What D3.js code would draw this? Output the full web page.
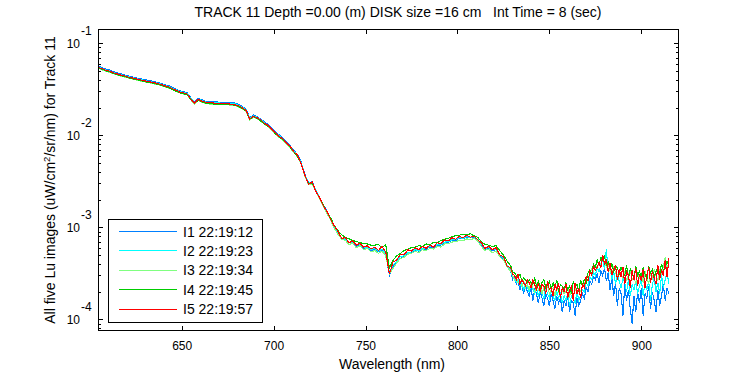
<!DOCTYPE html>
<html>
<head>
<meta charset="utf-8">
<script src="https://cdn.jsdelivr.net/npm/d3@7"></script>
<style>
  body { margin: 0; background: #fff; }
  svg { display: block; font-family: "Liberation Sans", Arial, Helvetica, sans-serif; }
</style>
</head>
<body>
<div id="chart"></div>
<script>
// wavelengths (nm): 2 nm steps 605-827, 1 nm steps 829-915
const wavelengths = d3.range(605, 829, 2).concat(d3.range(829, 916, 1));

// Lu values in units of 1e-5 uW/cm^2/sr/nm, one array per image
const lu1 = [
  5600,5400,5230,5100,4920,4770,4650,4530,4420,4320,
  4230,4140,4060,3980,3910,3830,3760,3660,3550,3450,
  3320,3170,3050,2970,2900,2560,2320,2530,2430,2350,
  2330,2310,2300,2290,2290,2280,2270,2240,2160,2060,
  1930,1560,1660,1600,1500,1400,1310,1200,1090,1010,
  935,855,770,690,615,512,378,305,312,256,
  214,178,149,124,99,
  86,76,72,68,67,62,64,58,60,56,
  57,54,57,51,30,37,42,46,48,52,
  53,56,55,58,58,61,60,64,64,68,
  69,72,72,76,75,78,77,78,73,65,
  58,59,56,57,49,45,38,
  33,27,29,24,26,21,24,19,23,20,
  18,22,16,21,19,15,20,17,14,19,
  17,14,19,16,13,18,15,17,12,16,
  14,18,12,16,15,11,17,14,16,19,
  17,22,20,26,24,29,27,31,25,34,
  30,36,26,32,21,28,18,25,14,22,
  19,11,24,16,21,13,9,18,12,20,
  15,22,11,19,17,23,13,20,16,12,
  21,14,18,24,16,22,19
];
const lu2 = [
  5480,5280,5110,4980,4800,4660,4550,4430,4330,4230,
  4140,4050,3970,3890,3830,3750,3680,3580,3480,3380,
  3250,3110,2990,2910,2850,2520,2280,2480,2380,2300,
  2280,2260,2250,2240,2240,2230,2220,2200,2120,2020,
  1900,1530,1630,1570,1480,1370,1280,1180,1070,990,
  915,835,755,675,605,505,372,302,307,252,
  212,176,148,124,100,
  87,77,74,69,69,64,65,60,61,57,
  59,55,58,52,32,39,43,48,49,53,
  54,57,56,59,59,62,61,65,65,69,
  70,73,73,77,76,79,78,79,74,66,
  59,60,57,58,50,46,39,
  34,29,28,25,27,23,25,21,24,22,
  20,23,21,19,22,18,21,19,17,22,
  19,17,21,18,16,20,17,19,15,18,
  16,19,14,18,17,15,20,16,18,21,
  20,25,23,29,27,32,30,36,33,39,
  44,35,58,32,36,27,33,24,30,26,
  22,28,25,20,27,18,24,21,26,19,
  23,27,18,25,21,26,16,24,28,20,
  25,19,30,22,27,33,24
];
const lu3 = [
  5300,5110,4940,4810,4650,4500,4400,4280,4180,4090,
  4000,3910,3830,3760,3700,3620,3550,3450,3360,3260,
  3130,3000,2880,2800,2740,2420,2180,2380,2290,2210,
  2190,2170,2160,2150,2150,2140,2130,2100,2030,1930,
  1820,1470,1570,1510,1420,1320,1230,1130,1030,950,
  880,805,725,650,580,485,360,290,296,242,
  204,170,142,120,97,
  84,74,72,65,67,60,63,57,59,54,
  56,52,55,49,31,36,41,46,47,51,
  52,55,53,57,56,59,58,62,61,66,
  66,69,70,72,71,75,73,76,71,62,
  56,58,53,55,48,44,37,
  33,30,27,29,25,26,23,26,22,24,
  21,25,22,20,24,21,23,19,22,20,
  23,19,21,22,18,23,20,18,21,19,
  20,22,18,21,17,22,19,21,20,23,
  24,28,26,31,35,33,38,36,42,40,
  46,41,37,40,34,31,37,32,30,34,
  31,28,33,26,30,35,27,29,24,32,
  28,31,25,33,29,24,32,27,35,30,
  26,34,31,38,47,36,42
];
const lu4 = [
  5380,5180,5010,4880,4710,4560,4450,4330,4230,4130,
  4040,3950,3870,3790,3730,3650,3580,3480,3380,3280,
  3150,3010,2900,2820,2760,2440,2210,2410,2310,2230,
  2210,2190,2180,2170,2170,2160,2150,2120,2050,1950,
  1840,1490,1590,1530,1430,1330,1250,1150,1040,960,
  895,815,740,660,590,495,365,298,303,248,
  208,176,149,127,105,
  92,83,78,75,72,70,68,67,66,64,
  64,65,60,65,36,44,49,52,56,58,
  60,61,63,62,66,64,69,68,72,74,
  76,79,81,82,84,83,85,81,78,70,
  65,64,62,63,56,50,43,
  38,33,32,30,28,31,26,28,27,25,
  27,25,24,28,23,26,22,25,27,22,
  24,26,21,25,22,27,20,24,23,21,
  25,21,23,19,26,22,24,20,27,23,
  27,25,32,35,31,40,37,44,39,47,
  44,48,39,42,35,40,33,38,36,31,
  37,33,30,39,28,35,32,27,38,30,
  33,29,36,31,27,38,32,35,29,33,
  37,31,40,34,36,43,38
];
const lu5 = [
  5450,5260,5070,4960,4770,4640,4510,4410,4290,4210,
  4100,4030,3930,3870,3790,3730,3640,3560,3440,3360,
  3210,3090,2950,2890,2810,2480,2240,2450,2350,2290,
  2250,2250,2220,2230,2210,2200,2170,2140,2090,1990,
  1870,1500,1610,1550,1470,1350,1280,1160,1070,970,
  920,820,760,660,610,490,370,295,310,245,
  212,172,150,122,104,
  90,76,77,68,71,64,67,61,63,58,
  61,56,62,54,31,42,44,51,50,57,
  55,60,57,62,59,64,61,68,66,73,
  71,77,74,80,77,82,78,80,73,68,
  59,62,57,60,50,48,38,
  36,31,30,27,31,24,27,25,23,27,
  25,22,27,24,21,25,20,24,23,19,
  26,21,22,18,24,21,25,17,22,20,
  24,17,21,23,16,25,19,22,17,24,
  22,29,26,33,30,38,34,37,42,36,
  50,40,44,33,41,30,36,38,27,35,
  29,37,24,33,30,22,34,27,36,23,
  31,26,35,22,30,37,25,33,28,24,
  39,27,34,30,44,29,46
];

const labels = ["I1 22:19:12", "I2 22:19:23", "I3 22:19:34", "I4 22:19:45", "I5 22:19:57"];
const colors = ["#0080ff", "#00ffff", "#80ff80", "#00cc00", "#ff0000"];
const series = [lu1, lu2, lu3, lu4, lu5];

const xTicks = [650, 700, 750, 800, 850, 900];
const yTicks = [1e-4, 1e-3, 1e-2, 1e-1];

const width = 750;
const height = 375;
const margin = { left: 98, right: 71, top: 29, bottom: 44 };
const plotRight = width - margin.right;
const plotBottom = height - margin.bottom;

const svg = d3.select("#chart").append("svg")
    .attr("width", width)
    .attr("height", height);

const x = d3.scaleLinear()
    .domain([604.5, 920.5])
    .range([margin.left, plotRight]);

const y = d3.scaleLog()
    .domain([Math.pow(10, -4.127), Math.pow(10, -0.845)])
    .range([plotBottom, margin.top]);

svg.append("clipPath").attr("id", "clip")
  .append("rect")
    .attr("x", margin.left).attr("y", margin.top)
    .attr("width", plotRight - margin.left)
    .attr("height", plotBottom - margin.top);

// data lines, I1 drawn first and I5 on top
const line = d3.line()
    .x(d => x(d[0]))
    .y(d => y(d[1]));

series.forEach((vals, i) => {
  const pts = wavelengths.map((w, j) => [w, vals[j] * 1e-5]);
  svg.append("path")
      .datum(pts)
      .attr("clip-path", "url(#clip)")
      .attr("fill", "none")
      .attr("stroke", colors[i])
      .attr("stroke-width", 1.1)
      .attr("shape-rendering", "crispEdges")
      .attr("d", line);
});

// axis box
svg.append("rect")
    .attr("x", margin.left + 0.5).attr("y", margin.top + 0.5)
    .attr("width", plotRight - margin.left - 1)
    .attr("height", plotBottom - margin.top - 1)
    .attr("fill", "none")
    .attr("stroke", "#000")
    .attr("shape-rendering", "crispEdges");

// x axis: ticks inward, bottom and top
const xBottom = d3.axisBottom(x).tickValues(xTicks).tickSize(-5).tickPadding(10);
const xTop = d3.axisTop(x).tickValues(xTicks).tickSize(-5).tickFormat("");
svg.append("g").attr("transform", `translate(0,${plotBottom})`).call(xBottom);
svg.append("g").attr("transform", `translate(0,${margin.top})`).call(xTop);

// y axis: major and minor log ticks inward, left and right
const minor = [];
for (let e = -5; e <= 0; e++) {
  for (let m = 2; m <= 9; m++) {
    const v = m * Math.pow(10, e);
    if (v >= y.domain()[0] && v <= y.domain()[1]) minor.push(v);
  }
}
[[margin.left, d3.axisLeft], [plotRight, d3.axisRight]].forEach(([px, ax]) => {
  svg.append("g").attr("transform", `translate(${px},0)`)
      .call(ax(y).tickValues(yTicks).tickSize(-5).tickFormat(""));
  svg.append("g").attr("transform", `translate(${px},0)`)
      .call(ax(y).tickValues(minor).tickSize(-3).tickFormat(""));
});

svg.selectAll(".domain").remove();
svg.selectAll(".tick line").attr("stroke", "#000").attr("shape-rendering", "crispEdges");
svg.selectAll(".tick text").attr("font-size", 12).attr("fill", "#000")
    .attr("font-family", '"Liberation Sans", Arial, sans-serif');

// y tick labels as 10^n
yTicks.forEach(v => {
  svg.append("text")
      .attr("x", 80)
      .attr("y", y(v) + 4.5)
      .attr("text-anchor", "end")
      .attr("font-size", 12)
      .text("10");
  svg.append("text")
      .attr("x", 81)
      .attr("y", y(v) - 8)
      .attr("font-size", 12)
      .text(String(Math.round(Math.log10(v))));
});

// title and axis labels
svg.append("text")
    .attr("x", 398)
    .attr("y", 17)
    .attr("text-anchor", "middle")
    .attr("font-size", 14)
    .attr("xml:space", "preserve")
    .text("TRACK 11 Depth =0.00 (m) DISK size =16 cm   Int Time = 8 (sec)");

svg.append("text")
    .attr("x", 392)
    .attr("y", 369)
    .attr("text-anchor", "middle")
    .attr("font-size", 14)
    .text("Wavelength (nm)");

const yl = svg.append("text")
    .attr("transform", `translate(55,${(margin.top + plotBottom) / 2}) rotate(-90)`)
    .attr("text-anchor", "middle")
    .attr("font-size", 14);
yl.append("tspan").text("All five Lu images (uW/cm");
yl.append("tspan").attr("font-size", 9.5).attr("dy", -5).text("2");
yl.append("tspan").attr("dy", 5).text("/sr/nm) for Track 11");

// legend
const lg = svg.append("g");
lg.append("rect")
    .attr("x", 108.5).attr("y", 219.5)
    .attr("width", 154).attr("height", 103)
    .attr("fill", "#fff")
    .attr("stroke", "#000")
    .attr("shape-rendering", "crispEdges");
labels.forEach((lab, i) => {
  const ly = 231.5 + i * 19.4;
  lg.append("line")
      .attr("x1", 119).attr("x2", 177)
      .attr("y1", ly).attr("y2", ly)
      .attr("stroke", colors[i])
      .attr("shape-rendering", "crispEdges");
  lg.append("text")
      .attr("x", 183)
      .attr("y", ly + 5)
      .attr("font-size", 14)
      .text(lab);
});
</script>
</body>
</html>
